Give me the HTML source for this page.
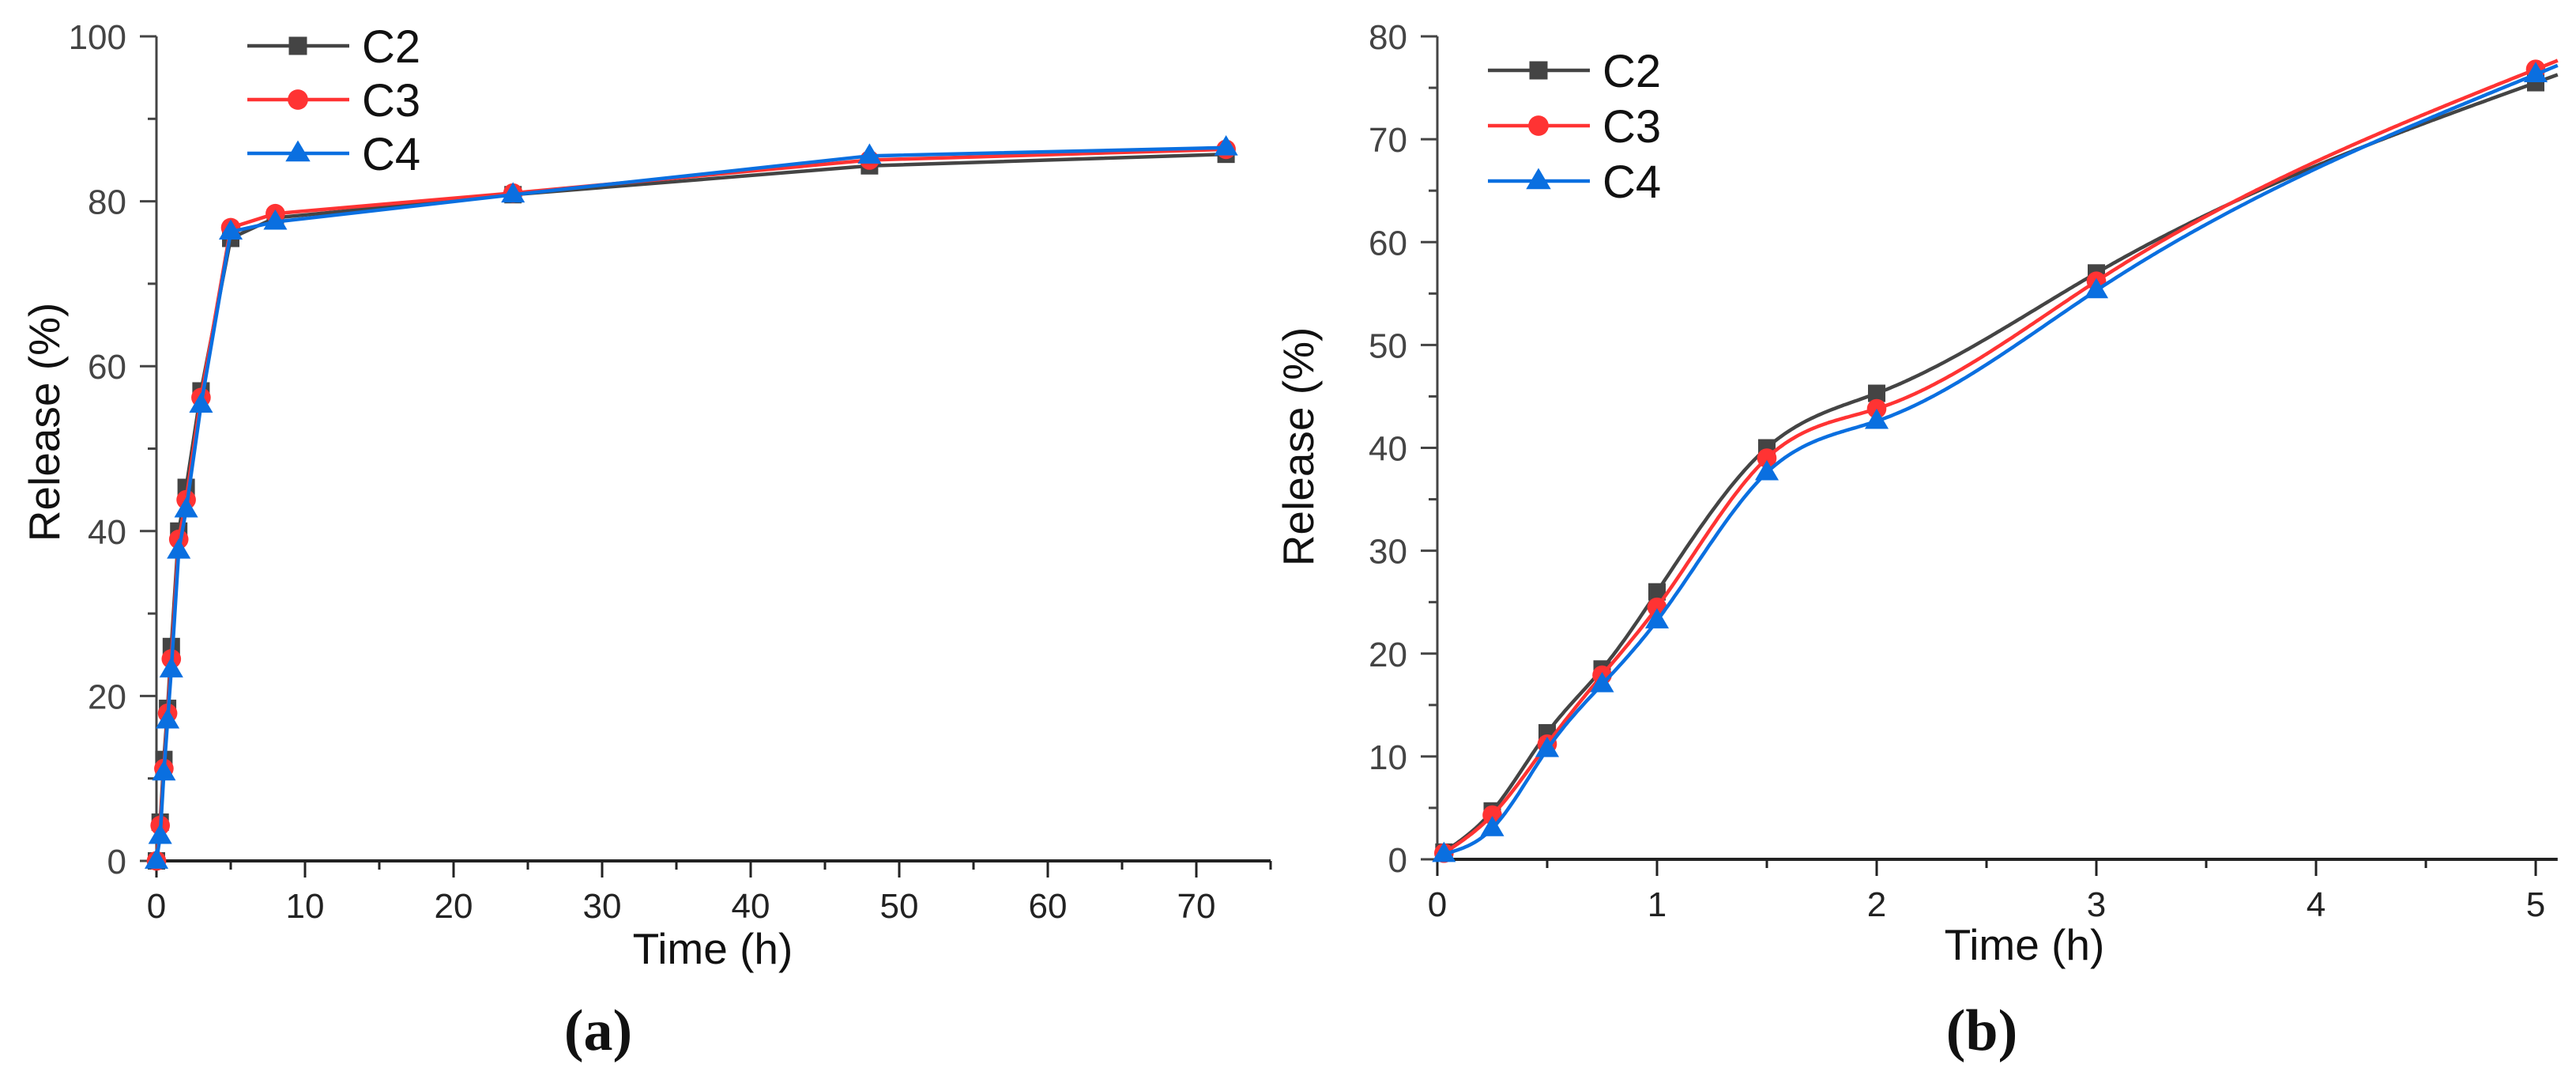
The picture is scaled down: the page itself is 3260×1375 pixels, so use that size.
<!DOCTYPE html>
<html><head><meta charset="utf-8">
<style>
html,body{margin:0;padding:0;background:#fff;}
svg{display:block;}
text{font-family:"Liberation Sans",Arial,sans-serif;}
</style></head>
<body>
<svg id="fig" width="3260" height="1375" viewBox="0 0 3260 1375" xmlns="http://www.w3.org/2000/svg">
<rect width="3260" height="1375" fill="#fff"/>
<g id="chartA"></g>
<g id="chartB"></g>
</svg>
<script>
// ---- data ----
const timesA = [0,0.25,0.5,0.75,1,1.5,2,3,5,8,24,48,72];
const c2A = [0,4.7,12.3,18.5,26,40,45.3,57,75.5,78,80.8,84.3,85.7];
const c3A = [0,4.3,11.2,17.9,24.5,39,43.8,56.2,76.8,78.5,81,85,86.3];
const c4A = [0,3.0,10.7,17.0,23.2,37.6,42.6,55.3,76.3,77.5,80.8,85.5,86.5];
const timesB = [0.03,0.25,0.5,0.75,1,1.5,2,3,5];
const c2B = [0.7,4.7,12.3,18.5,26,40,45.3,57,75.5];
const c3B = [0.6,4.3,11.2,17.9,24.5,39,43.8,56.2,76.8];
const c4B = [0.5,3.0,10.7,17.0,23.2,37.6,42.6,55.3,76.3];
const seriesNames = ["C2","C3","C4"];
const ticksAx = [0,10,20,30,40,50,60,70];
const ticksAy = [0,20,40,60,80,100];
const ticksBx = [0,1,2,3,4,5];
const ticksBy = [0,10,20,30,40,50,60,70,80];

const NS="http://www.w3.org/2000/svg";
const colors=["#444444","#ff3333","#0a6fe0"];
function mk(tag,attrs,parent){const e=document.createElementNS(NS,tag);for(const k in attrs)e.setAttribute(k,attrs[k]);parent.appendChild(e);return e;}

function spline(xs,ys){
  const n=xs.length,h=[],al=[],l=[1],mu=[0],z=[0],c=new Array(n).fill(0),b=[],d=[];
  for(let i=0;i<n-1;i++)h.push(xs[i+1]-xs[i]);
  for(let i=1;i<n-1;i++)al[i]=3/h[i]*(ys[i+1]-ys[i])-3/h[i-1]*(ys[i]-ys[i-1]);
  for(let i=1;i<n-1;i++){l[i]=2*(xs[i+1]-xs[i-1])-h[i-1]*mu[i-1];mu[i]=h[i]/l[i];z[i]=(al[i]-h[i-1]*z[i-1])/l[i];}
  l[n-1]=1;z[n-1]=0;
  for(let j=n-2;j>=0;j--){c[j]=z[j]-mu[j]*c[j+1];b[j]=(ys[j+1]-ys[j])/h[j]-h[j]*(c[j+1]+2*c[j])/3;d[j]=(c[j+1]-c[j])/(3*h[j]);}
  return function(x){let i=n-2;for(let k=0;k<n-1;k++){if(x<=xs[k+1]){i=k;break;}}const dx=x-xs[i];return ys[i]+b[i]*dx+c[i]*dx*dx+d[i]*dx*dx*dx;};
}

function marker(g,k,x,y,s){
  let m;
  if(k===0){m=mk("rect",{x:x-s/2,y:y-s/2,width:s,height:s,fill:colors[0]},g);}
  else if(k===1){m=mk("circle",{cx:x,cy:y,r:s*0.56,fill:colors[1]},g);}
  else {const r=s*0.72;m=mk("polygon",{points:`${x},${y-r} ${x+r*0.95},${y+r*0.62} ${x-r*0.95},${y+r*0.62}`,fill:colors[2]},g);}
  return m;
}

function drawChart(g,cfg){
  const X=v=>cfg.x0+(v-cfg.xmin)*(cfg.x1-cfg.x0)/(cfg.xmax-cfg.xmin);
  const Y=v=>cfg.y0-(v-cfg.ymin)*(cfg.y0-cfg.y1)/(cfg.ymax-cfg.ymin);
  const ax=mk("g",{},g);
  
  
  const xEnd=X(cfg.xaxisMax);
  mk("line",{x1:cfg.x0,y1:cfg.y0,x2:xEnd,y2:cfg.y0,stroke:"#222","stroke-width":4},ax);
  mk("line",{x1:cfg.x0,y1:cfg.y0,x2:cfg.x0,y2:Y(cfg.ymax),stroke:"#444","stroke-width":3},ax);
  for(let v=cfg.xmin;v<=cfg.xaxisMax+1e-9;v+=cfg.xminor){
    const major=cfg.xticks.some(t=>Math.abs(t-v)<1e-9);
    mk("line",{x1:X(v),y1:cfg.y0,x2:X(v),y2:cfg.y0+(major?21:11),stroke:"#222","stroke-width":3},ax);
  }
  cfg.xticks.forEach(t=>{const tx=mk("text",{x:X(t),y:cfg.y0+72,"font-size":44,"text-anchor":"middle",fill:"#222"},ax);tx.textContent=t;
    
    });
  for(let v=cfg.ymin;v<=cfg.ymax+1e-9;v+=cfg.yminor){
    const major=cfg.yticks.some(t=>Math.abs(t-v)<1e-9);
    mk("line",{x1:cfg.x0,y1:Y(v),x2:cfg.x0-(major?21:11),y2:Y(v),stroke:"#444","stroke-width":3},ax);
  }
  cfg.yticks.forEach(t=>{const tx=mk("text",{x:cfg.x0-38,y:Y(t)+16,"font-size":44,"text-anchor":"end",fill:"#444"},ax);tx.textContent=t;
    
    });
  const xt=mk("text",{x:cfg.xtitleX,y:cfg.xtitleY,"font-size":55,"text-anchor":"middle",fill:"#111"},g);xt.textContent="Time (h)";
  
  
  const yt=mk("text",{x:0,y:0,"font-size":55,"text-anchor":"middle",fill:"#111",transform:`translate(${cfg.ytitleX},${cfg.ytitleY}) rotate(-90)`},g);yt.textContent="Release (%)";
  
  
  const pl=mk("text",{x:cfg.panelX,y:cfg.panelY,"font-size":74,"font-weight":"bold","text-anchor":"middle",fill:"#111",style:"font-family:'Liberation Serif',serif"},g);pl.textContent=cfg.panel;
  
  
  cfg.series.forEach((ys,k)=>{
    const sg=mk("g",{},g);
    
    
    let d="";
    if(cfg.smooth){
      const f=spline(cfg.times,ys);
      for(let t=cfg.times[0];t<=cfg.smoothEnd;t+=0.01){d+=(d?"L":"M")+X(t).toFixed(1)+","+Y(f(t)).toFixed(1);}
    } else {
      cfg.times.forEach((t,i)=>{d+=(i?"L":"M")+X(t).toFixed(1)+","+Y(ys[i]).toFixed(1);});
    }
    const p=mk("path",{d:d,fill:"none",stroke:colors[k],"stroke-width":4.5,"stroke-linejoin":"round"},sg);
    
    
    cfg.times.forEach((t,i)=>{
      const m=marker(sg,k,X(t),Y(ys[i]),22);
      
      
    });
  });
  const lg=mk("g",{},g);
  
  
  seriesNames.forEach((nm,k)=>{
    const ly=cfg.legY+k*cfg.legDy;
    const e=mk("g",{},lg);
    
    
    mk("line",{x1:cfg.legX,y1:ly,x2:cfg.legX+129,y2:ly,stroke:colors[k],"stroke-width":4.5},e);
    marker(e,k,cfg.legX+64,ly,23);
    const t=mk("text",{x:cfg.legX+145,y:ly+21,"font-size":58,fill:"#111"},e);t.textContent=nm;
  });
}

drawChart(document.getElementById("chartA"),{
  x0:198,x1:1514,xmin:0,xmax:70,xaxisMax:75,xminor:5,xticks:ticksAx,
  y0:1089,y1:46,ymin:0,ymax:100,yminor:10,yticks:ticksAy,
  times:timesA,series:[c2A,c3A,c4A],smooth:false,
  xtitleX:902,xtitleY:1219,ytitleX:75,ytitleY:534,panelX:757,panelY:1328,panel:"(a)",
  legX:313,legY:58,legDy:68
});
drawChart(document.getElementById("chartB"),{
  x0:1819,x1:3209,xmin:0,xmax:5,xaxisMax:5.1,xminor:0.5,xticks:ticksBx,
  y0:1087,y1:46,ymin:0,ymax:80,yminor:5,yticks:ticksBy,
  times:timesB,series:[c2B,c3B,c4B],smooth:true,smoothEnd:5.1,
  xtitleX:2562,xtitleY:1214,ytitleX:1662,ytitleY:565,panelX:2508,panelY:1328,panel:"(b)",
  legX:1883,legY:89,legDy:70
});
</script>
</body></html>
